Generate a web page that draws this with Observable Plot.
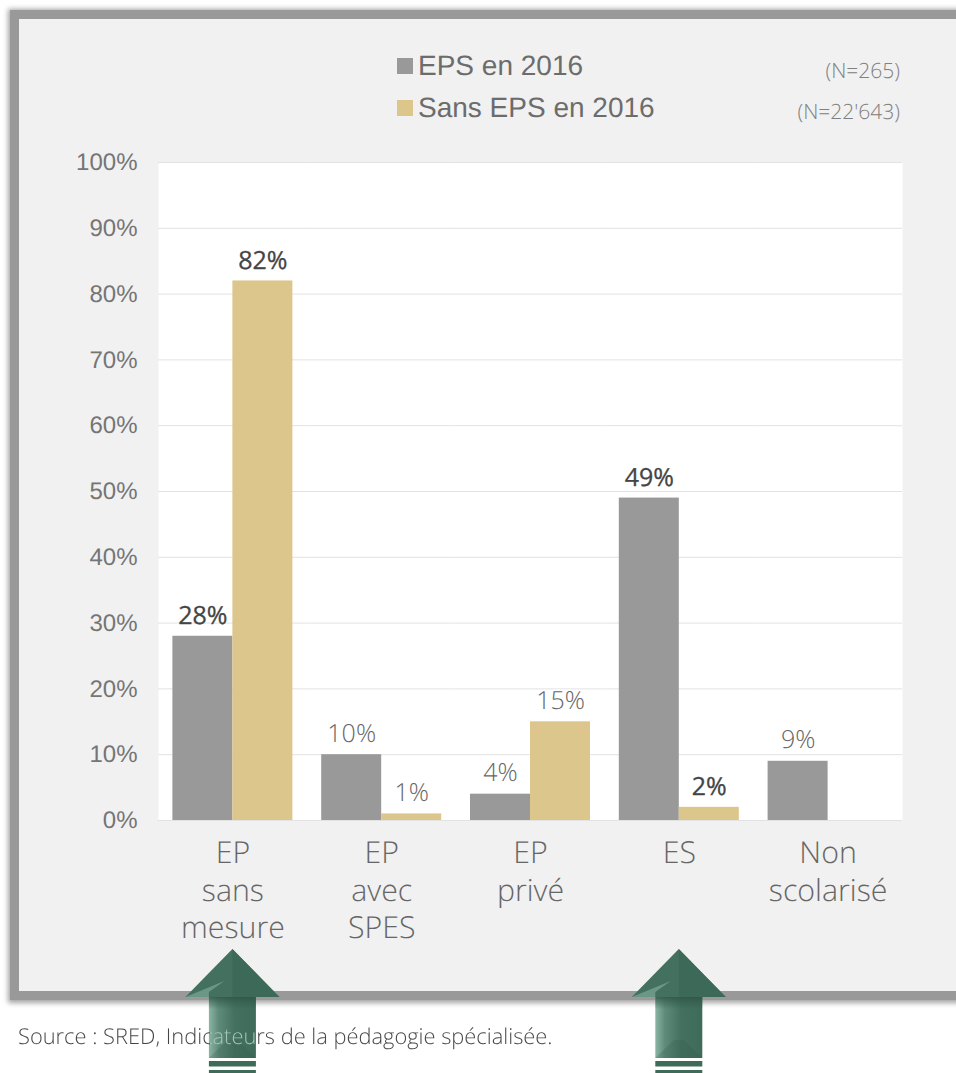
<!DOCTYPE html>
<html><head><meta charset="utf-8">
<script src="https://cdn.jsdelivr.net/npm/d3@7"></script>
<script src="https://cdn.jsdelivr.net/npm/@observablehq/plot@0.6"></script>
<style>
html,body{margin:0;padding:0;background:#fff;overflow:hidden}
#page{position:relative;width:956px;height:1073px;overflow:hidden;text-rendering:geometricPrecision}
#frame{position:absolute;left:10px;top:10px;width:1000px;height:990px;box-sizing:border-box;background:#f1f1f1;border:9px solid #999;box-shadow:0 1px 5px 2px #a5a5a5}
#chart{position:absolute;left:0;top:0}
#chart svg{background:transparent;display:block}
#chart text{text-rendering:geometricPrecision}
.lg{position:absolute;white-space:nowrap}
.lt{font:28px "Liberation Sans",sans-serif;color:#6c6c6c;left:418px;line-height:32px}
.sw{width:16px;height:16px;left:396.5px}
.nn{font:300 21px "Open Sans",sans-serif;color:#808080;right:56px;line-height:26px}
#source{position:absolute;left:18px;top:1022px;font:300 21.85px "Open Sans",sans-serif;white-space:nowrap;color:transparent;
 background:linear-gradient(90deg,#444 0,#444 192px,#a9c4ba 192px,#a9c4ba 239px,#444 239px,#444 100%);-webkit-background-clip:text;background-clip:text}
#arrows{position:absolute;left:0;top:0}
</style></head>
<body><div id="page">
<div id="frame"></div>
<div id="chart"></div>
<div id="legend"></div>
<svg id="arrows" width="956" height="1073"></svg>
<div id="source"></div>
</div>
<script>
const categories = ["EP\nsans\nmesure","EP\navec\nSPES","EP\nprivé","ES","Non\nscolarisé"];
const eps2016 = [28,10,4,49,9];
const sansEps2016 = [82,1,15,2,null];
const seriesNames = ["EPS en 2016","Sans EPS en 2016"];
const seriesColors = ["#999999","#dcc68c"];
const seriesN = ["(N=265)","(N=22'643)"];
const yTicks = [0,10,20,30,40,50,60,70,80,90,100];
const emphasised = ["28%","82%","49%","2%"];
const arrowCategories = ["EP\nsans\nmesure","ES"];
const sourceText = "Source : SRED, Indicateurs de la pédagogie spécialisée.";

const rows = [];
categories.forEach((c,i)=>{
  rows.push({cat:c,series:seriesNames[0],value:eps2016[i]});
  if(sansEps2016[i]!=null) rows.push({cat:c,series:seriesNames[1],value:sansEps2016[i]});
});
const label = d=>d.value+"%";
const isEm = d=>emphasised.includes(label(d));

const plot = Plot.plot({
  width:956,height:1073,
  marginLeft:158,marginRight:54,marginTop:162,marginBottom:253,
  style:{background:"transparent",overflow:"visible"},
  fx:{domain:categories,padding:0,label:null,round:false},
  x:{domain:seriesNames,paddingInner:0,paddingOuter:0.24,axis:null,label:null,round:false},
  y:{domain:[0,100],label:null},
  color:{domain:seriesNames,range:seriesColors},
  marks:[
    Plot.frame({fill:"#fff",stroke:null,facet:"super"}),
    Plot.ruleY(yTicks,{stroke:"#e2e2e2",strokeWidth:1}),
    Plot.barY(rows,{fx:"cat",x:"series",y:"value",fill:"series",insetLeft:0,insetRight:0}),
    Plot.text(rows.filter(d=>!isEm(d)),{fx:"cat",x:"series",y:"value",text:label,dy:-21,fontSize:25,fontFamily:"Open Sans",fontWeight:300,fill:"#666",stroke:"#fff",strokeWidth:3}),
    Plot.text(rows.filter(isEm),{fx:"cat",x:"series",y:"value",text:label,dy:-20,fontSize:25,fontFamily:"Open Sans",fontWeight:400,fill:"#444",stroke:"#444",strokeWidth:0.3}),
    Plot.axisY({anchor:"left",ticks:yTicks,tickFormat:d=>d+"%",tickSize:0,tickPadding:21,fontSize:24,fontFamily:"Liberation Sans",color:"#757575",label:null}),
    Plot.axisFx({anchor:"bottom",tickSize:0,tickPadding:16,fontSize:30.3,fontFamily:"Open Sans",fontWeight:300,color:"#666",lineHeight:1.24,label:null,lineAnchor:"top"})
  ]
});
document.getElementById("chart").appendChild(plot);

const legend = document.getElementById("legend");
const lgTop=[50,92], nTop=[58,99];
seriesNames.forEach((n,i)=>{
  legend.insertAdjacentHTML("beforeend",
   `<div class="lg sw" style="top:${lgTop[i]+8}px;background:${seriesColors[i]}"></div>
    <div class="lg lt" style="top:${lgTop[i]}px">${n}</div>
    <div class="lg nn" style="top:${nTop[i]}px">${seriesN[i]}</div>`);
});
document.getElementById("source").textContent = sourceText;

const fx = plot.scale("fx");
const ar = d3.select("#arrows");
const defs = ar.append("defs");
const g = defs.append("linearGradient").attr("id","sh");
[[0,"#8ab5a3"],[0.08,"#7aa594"],[0.2,"#5f8c7a"],[0.55,"#44715f"],[1,"#3f6c5a"]].forEach(([o,c])=>g.append("stop").attr("offset",o).attr("stop-color",c));
const gv = defs.append("linearGradient").attr("id","shade").attr("x1",0).attr("x2",0).attr("y1",0).attr("y2",1);
[[0,"#2f5647",0.85],[0.2,"#2f5647",0],[1,"#2f5647",0]].forEach(([o,c,p])=>gv.append("stop").attr("offset",o).attr("stop-color",c).attr("stop-opacity",p));
const fxBand = fx.bandwidth;
arrowCategories.forEach(c=>{
  const cx = fx.apply(c)+fxBand/2;
  const a = ar.append("g").attr("transform",`translate(${cx},0)`);
  a.append("path").attr("d","M0,949 L-47,997 L47,997 Z").attr("fill","#44715f");
  a.append("path").attr("d","M0,949 L47,997 L0,997 Z").attr("fill","#3d6a58");
  a.append("path").attr("d","M-47,997 L-8,981 L-23.5,992 L-23.5,997 Z").attr("fill","#6b9786");
  a.append("rect").attr("x",-23.5).attr("y",997).attr("width",47).attr("height",61).attr("fill","url(#sh)");
  a.append("rect").attr("x",-23.5).attr("y",997).attr("width",47).attr("height",61).attr("fill","url(#shade)");
  a.append("path").attr("d","M-23.5,1058 L-5,1040 L5,1040 L23.5,1058 Z").attr("fill","#33594a").attr("opacity",0.25);
  a.append("rect").attr("x",-23.5).attr("y",1061).attr("width",47).attr("height",5.5).attr("fill","#3f6c5a");
  a.append("rect").attr("x",-23.5).attr("y",1070).attr("width",47).attr("height",3).attr("fill","#3f6c5a");
});
</script>
</body></html>
